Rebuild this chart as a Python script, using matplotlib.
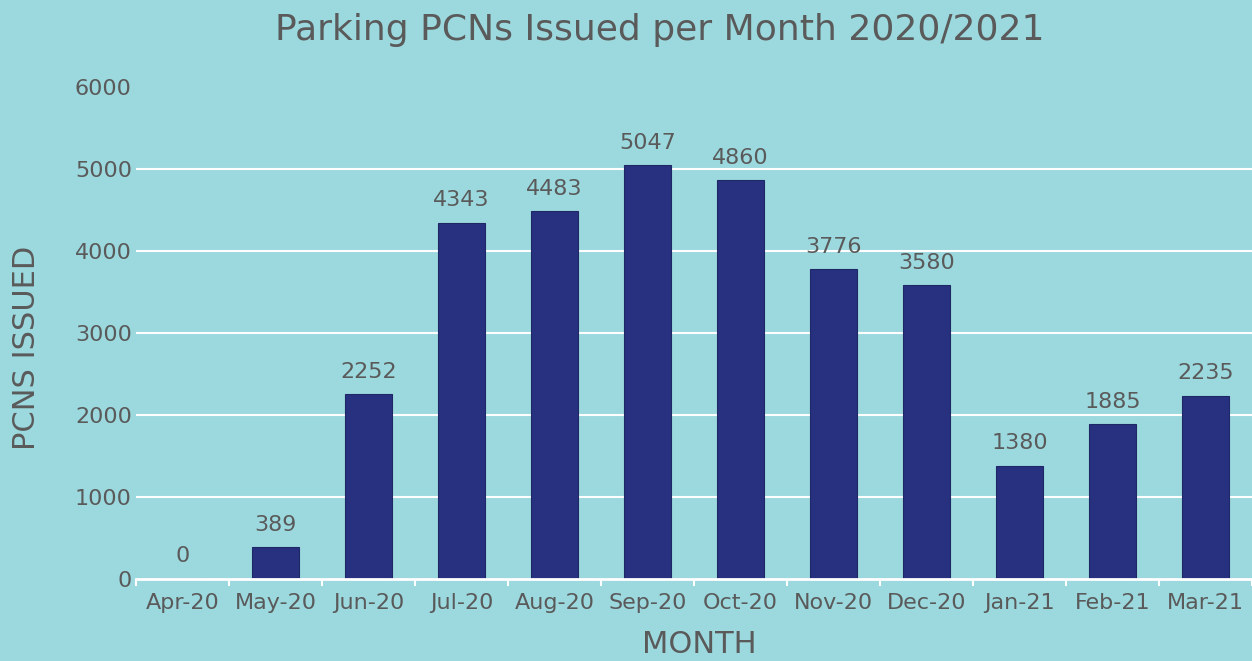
import matplotlib
matplotlib.use("Agg")
import matplotlib.pyplot as plt
import numpy as np

months = ['Apr-20', 'May-20', 'Jun-20', 'Jul-20', 'Aug-20', 'Sep-20',
          'Oct-20', 'Nov-20', 'Dec-20', 'Jan-21', 'Feb-21', 'Mar-21']
pcns = [0, 389, 2252, 4343, 4483, 5047, 4860, 3776, 3580, 1380, 1885, 2235]

bg = '#9cd9df'
bar_color = '#27317f'
text_color = '#5a5a5a'

plt.rcParams['font.family'] = ['DejaVu Sans']

fig = plt.figure(figsize=(12.52, 6.61), dpi=100, facecolor=bg)
ax = fig.add_axes([136 / 1252, 1 - 579 / 661, 1 - 136 / 1252, (579 - 87) / 661])
ax.set_facecolor(bg)

x = np.arange(len(months))
rects = ax.bar(x, pcns, 0.5, color=bar_color, edgecolor='#1f2866', lw=0.8, zorder=3)

for rect, v in zip(rects, pcns):
    ax.annotate(str(v), xy=(rect.get_x() + rect.get_width() / 2, rect.get_height()),
                xytext=(0, 9), textcoords='offset points',
                ha='center', va='bottom', fontsize=16, color=text_color)

ax.set_xlim(-0.5, len(months) - 0.5)
ax.set_ylim(0, 6000)
ax.set_yticks(range(0, 7000, 1000))
for y in range(1000, 6000, 1000):
    ax.axhline(y, color='white', lw=1.5, zorder=1)

ax.set_xticks(x)
ax.set_xticklabels(months)
ax.set_xticks(np.arange(-0.5, len(months), 1), minor=True)
ax.tick_params(axis='x', which='major', length=0, pad=10, labelsize=16, labelcolor=text_color)
ax.tick_params(axis='x', which='minor', length=5, width=1.5, color='white')
ax.tick_params(axis='y', length=0, pad=3, labelsize=16, labelcolor=text_color)

for s in ['top', 'right', 'left']:
    ax.spines[s].set_visible(False)
ax.spines['bottom'].set_color('white')
ax.spines['bottom'].set_linewidth(2)
ax.spines['bottom'].set_zorder(4)

ax.set_ylabel('PCNS ISSUED', fontsize=22, color=text_color)
ax.yaxis.set_label_coords(-0.085, 0.47)
fig.text(0.5585, 2 / 661, 'MONTH', fontsize=22, color=text_color, ha='center', va='bottom')
fig.text(0.527, 1 - 30 / 661, 'Parking PCNs Issued per Month 2020/2021', fontsize=26,
         color=text_color, ha='center', va='center')

fig.savefig('out.png', dpi=100, facecolor=bg)
